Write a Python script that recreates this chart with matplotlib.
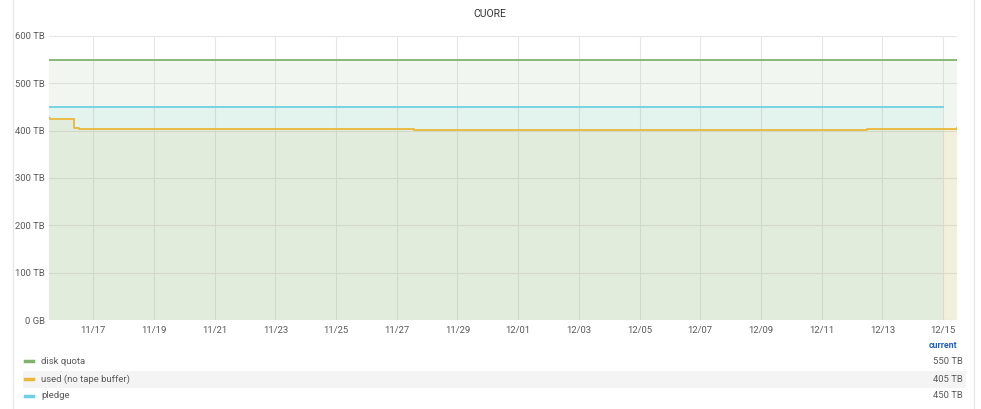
import matplotlib
matplotlib.use("Agg")
from matplotlib import pyplot as plt
import matplotlib.dates as mdates
from matplotlib.lines import Line2D
from matplotlib.patches import Rectangle
import pandas as pd

plt.rcParams['font.family'] = ['Roboto', 'DejaVu Sans']

# series as step points (TB)
quota_times = ['2019-11-15 13:00', '2019-12-15 11:00']
quota_values = [550, 550]

used_times = ['2019-11-15 13:00', '2019-11-15 14:00', '2019-11-16 09:00', '2019-11-16 13:00',
              '2019-11-27 14:00', '2019-12-12 12:00', '2019-12-15 11:00']
used_values = [427, 425, 406, 404.5, 401.5, 403, 405]

pledge_times = ['2019-11-15 13:00', '2019-12-15 00:00']
pledge_values = [450, 450]

series_names = ['disk quota', 'used (no tape buffer)', 'pledge']
series_colors = ['#7EB26D', '#EAB839', '#6ED0E0']

y_ticks = [0, 100, 200, 300, 400, 500, 600]
y_labels = ['0 GB', '100 TB', '200 TB', '300 TB', '400 TB', '500 TB', '600 TB']
x_ticks = pd.date_range('2019-11-17', '2019-12-15', freq='2D')

x_start = pd.Timestamp('2019-11-15 13:00')
x_end = pd.Timestamp('2019-12-15 11:00')

fig = plt.figure(figsize=(9.81, 4.09), dpi=100)
ax = fig.add_axes([0.05, 0.2176, 0.9255, 0.6944])

series = [(quota_times, quota_values), (used_times, used_values), (pledge_times, pledge_values)]
for (t, v), c in zip(series, series_colors):
    t = pd.to_datetime(t)
    ax.fill_between(t, v, 0, step='post', color=c, alpha=0.1, linewidth=0)
    ax.step(t, v, where='post', color=c, linewidth=1.3)

ax.set_xlim(x_start, x_end)
ax.set_ylim(0, 600)
ax.set_yticks(y_ticks)
ax.set_yticklabels(y_labels)
ax.set_xticks(x_ticks)
ax.xaxis.set_major_formatter(mdates.DateFormatter('%m/%d'))
ax.grid(True, color='#e6e6e6', linewidth=0.8)
ax.set_axisbelow(True)
for s in ax.spines.values():
    s.set_visible(False)
ax.tick_params(length=0, labelsize=6.8, labelcolor='#5a5a5a')
ax.tick_params(axis='x', pad=4)
ax.tick_params(axis='y', pad=3)

fig.text(490 / 981, 1 - 14 / 409, 'CUORE', ha='center', va='center', fontsize=7.5, color='#333333')

# panel borders
fig.add_artist(Line2D([13 / 981, 13 / 981], [0, 1], color='#e8e8e8', linewidth=1))
fig.add_artist(Line2D([974 / 981, 974 / 981], [0, 1], color='#e8e8e8', linewidth=1))

# legend table
fig.text(957 / 981, 1 - 346 / 409, 'current', ha='right', va='center', fontsize=6.3,
         color='#1f60c4', fontweight='bold')
fig.add_artist(Rectangle((23 / 981, 1 - 388 / 409), 943 / 981, 17 / 409,
                         facecolor='#f4f4f4', edgecolor='none'))
row_y = [361, 379, 396]
current = [quota_values[-1], used_values[-1], pledge_values[-1]]
for name, c, y, val in zip(series_names, series_colors, row_y, current):
    yf = 1 - y / 409
    fig.add_artist(Line2D([25 / 981, 33 / 981], [yf, yf], color=c, linewidth=2.5))
    fig.text(41 / 981, yf, name, ha='left', va='center', fontsize=6.8, color='#5a5a5a')
    fig.text(963 / 981, yf, f'{val:.0f} TB', ha='right', va='center', fontsize=6.8, color='#5a5a5a')

fig.savefig('out.png', dpi=100)
